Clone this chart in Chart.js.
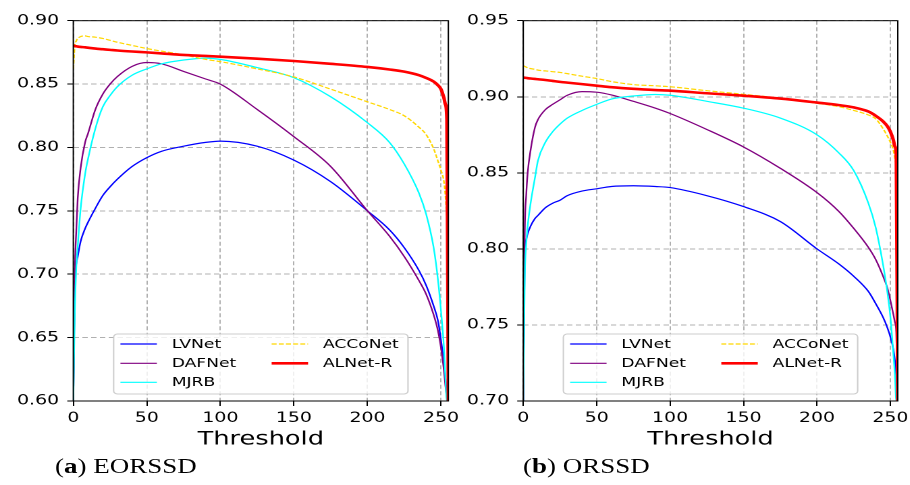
<!DOCTYPE html>
<html lang="en">
  <head>
    <meta charset="UTF-8" />
    <title>F-measure vs threshold</title>
    <script src="https://cdn.jsdelivr.net/npm/chart.js"></script>
    <style>
      body {
        margin: 0;
        background: #fff;
      }
      /* the source figure is stretched sideways, so the whole figure is too */
      #figure {
        position: relative;
        width: 674px;
        height: 485px;
        transform: scaleX(1.35);
        transform-origin: 0 0;
      }
      canvas {
        position: absolute;
        top: 0;
      }
      #chartA {
        left: 0;
      }
      #chartB {
        left: 337px;
      }
      .caption {
        position: absolute;
        top: 456px;
        font-family: "Liberation Serif", serif;
        font-size: 20px;
        line-height: 20px;
        color: #000;
        white-space: nowrap;
      }
    </style>
  </head>
  <body>
    <div id="figure">
      <canvas id="chartA" width="345" height="460"></canvas>
      <canvas id="chartB" width="337" height="460"></canvas>
      <div class="caption" style="left: 40.7px">(<b>a</b>) EORSSD</div>
      <div class="caption" style="left: 387.4px">(<b>b</b>) ORSSD</div>
    </div>

    <script>
      const names = ["LVNet", "DAFNet", "MJRB", "ACCoNet", "ALNet-R"];
      const colors = ["#0000ff", "#800080", "#00ffff", "#ffd700", "#ff0000"];
      const widths = [1.2, 1.2, 1.2, 1.2, 2.6];
      const dashes = [[], [], [], [3.7, 1.6], []];

      const xTicks = [0, 50, 100, 150, 200, 250];
      const yTicksA = [0.6, 0.65, 0.7, 0.75, 0.8, 0.85, 0.9];
      const yTicksB = [0.7, 0.75, 0.8, 0.85, 0.9, 0.95];

      const thresholds = [
        0, 1, 2, 3, 5, 8, 10, 15, 20, 25, 30, 40, 50, 60, 75, 90, 100, 125,
        150, 175, 200, 215, 225, 235, 240, 245, 248, 250, 252, 253, 254, 255,
      ];

      // (a) EORSSD
      const eorssdLVNet = [
        0.6, 0.69, 0.708, 0.714, 0.726, 0.736, 0.741, 0.752, 0.762, 0.769,
        0.775, 0.785, 0.792, 0.797, 0.801, 0.804, 0.805, 0.801, 0.79, 0.773,
        0.75, 0.735, 0.721, 0.703, 0.691, 0.675, 0.663, 0.648, 0.63, 0.618,
        0.605, 0.6,
      ];
      const eorssdDAFNet = [
        0.6, 0.7, 0.734, 0.76, 0.784, 0.804, 0.811, 0.83, 0.842, 0.85, 0.856,
        0.864, 0.867, 0.866, 0.86, 0.854, 0.85, 0.83, 0.8085, 0.785, 0.75,
        0.73, 0.714, 0.695, 0.684, 0.668, 0.655, 0.642, 0.624, 0.612, 0.603,
        0.6,
      ];
      const eorssdMJRB = [
        0.6, 0.67, 0.705, 0.722, 0.752, 0.779, 0.791, 0.815, 0.832, 0.841,
        0.848, 0.857, 0.862, 0.866, 0.869, 0.8705, 0.8695, 0.863, 0.855, 0.84,
        0.8195, 0.804, 0.787, 0.764, 0.747, 0.721, 0.695, 0.671, 0.642, 0.618,
        0.6, 0.6,
      ];
      const eorssdACCoNet = [
        0.862, 0.88, 0.884, 0.886, 0.8875, 0.888, 0.8875, 0.887, 0.886, 0.8845,
        0.883, 0.8805, 0.878, 0.876, 0.873, 0.8695, 0.8677, 0.862, 0.8556,
        0.846, 0.836, 0.83, 0.825, 0.816, 0.81, 0.799, 0.789, 0.782, 0.773,
        0.762, 0.745, 0.738,
      ];
      const eorssdALNetR = [
        0.8805, 0.88, 0.8798, 0.8796, 0.8793, 0.879, 0.8787, 0.878, 0.8775,
        0.877, 0.8765, 0.8757, 0.875, 0.8742, 0.873, 0.8722, 0.8716, 0.87,
        0.8682, 0.866, 0.8635, 0.8615, 0.8598, 0.857, 0.8548, 0.852, 0.849,
        0.846, 0.839, 0.834, 0.822, 0.6,
      ];

      // (b) ORSSD
      const orssdLVNet = [
        0.7, 0.795, 0.806, 0.81, 0.815, 0.82, 0.822, 0.827, 0.83, 0.832, 0.835,
        0.838, 0.8395, 0.841, 0.8415, 0.841, 0.8403, 0.835, 0.8278, 0.818,
        0.8, 0.79, 0.782, 0.772, 0.764, 0.755, 0.748, 0.742, 0.734, 0.727,
        0.715, 0.7,
      ];
      const orssdDAFNet = [
        0.7, 0.81, 0.835, 0.85, 0.865, 0.88, 0.885, 0.8915, 0.895, 0.898,
        0.901, 0.9034, 0.903, 0.9012, 0.897, 0.8925, 0.889, 0.8785, 0.867,
        0.853, 0.837, 0.8245, 0.8135, 0.801, 0.793, 0.782, 0.774, 0.766, 0.757,
        0.752, 0.745, 0.7,
      ];
      const orssdMJRB = [
        0.7, 0.78, 0.803, 0.815, 0.83, 0.847, 0.858, 0.87, 0.877, 0.882, 0.886,
        0.891, 0.895, 0.8985, 0.9005, 0.9015, 0.901, 0.897, 0.8925, 0.886,
        0.875, 0.863, 0.8515, 0.83, 0.814, 0.7895, 0.771, 0.755, 0.731, 0.718,
        0.7, 0.7,
      ];
      const orssdACCoNet = [
        0.9204, 0.92, 0.9195, 0.919, 0.9185, 0.918, 0.9175, 0.917, 0.9165,
        0.916, 0.9152, 0.9135, 0.912, 0.91, 0.908, 0.9072, 0.9066, 0.904,
        0.9016, 0.899, 0.8957, 0.8935, 0.891, 0.888, 0.8855, 0.879, 0.874,
        0.87, 0.865, 0.86, 0.855, 0.852,
      ];
      const orssdALNetR = [
        0.9126, 0.9125, 0.9124, 0.9122, 0.912, 0.9117, 0.9115, 0.911, 0.9104,
        0.9098, 0.9093, 0.9083, 0.9073, 0.9063, 0.9052, 0.9044, 0.904, 0.9023,
        0.9007, 0.8988, 0.8962, 0.8945, 0.893, 0.8903, 0.8875, 0.8838, 0.8805,
        0.877, 0.8715, 0.8675, 0.861, 0.7,
      ];

      const tickFont = { family: "DejaVu Sans", size: 14 };

      // box around the plot + matplotlib-like two column legend
      const frameAndLegend = {
        id: "frameAndLegend",
        afterDatasetsDraw(chart) {
          const { ctx, chartArea: a } = chart;
          ctx.save();
          ctx.strokeStyle = "#000";
          ctx.lineWidth = 1;
          ctx.strokeRect(a.left, a.top, a.right - a.left, a.bottom - a.top);

          const w = 218;
          const h = 60;
          const bx = (a.left + a.right) / 2 - w / 2;
          const by = a.bottom - 7 - h;
          ctx.beginPath();
          ctx.roundRect(bx, by, w, h, 3);
          ctx.fillStyle = "rgba(255,255,255,0.8)";
          ctx.fill();
          ctx.strokeStyle = "#cccccc";
          ctx.stroke();

          const slots = [
            [5, 10],
            [5, 29.3],
            [5, 48.3],
            [117, 10],
            [117, 29.3],
          ];
          ctx.font = "12.7px 'DejaVu Sans'";
          ctx.textBaseline = "middle";
          chart.data.datasets.forEach((ds, i) => {
            const x = bx + slots[i][0];
            const y = by + slots[i][1];
            ctx.beginPath();
            ctx.setLineDash(ds.borderDash);
            ctx.strokeStyle = ds.borderColor;
            ctx.lineWidth = ds.borderWidth;
            ctx.moveTo(x, y);
            ctx.lineTo(x + 27, y);
            ctx.stroke();
            ctx.setLineDash([]);
            ctx.fillStyle = "#000";
            ctx.fillText(ds.label, x + 38, y + 0.5);
          });
          ctx.restore();
        },
      };

      function makeChart(id, values, yMin, yMax, yTicks, axisWidth, padRight) {
        return new Chart(document.getElementById(id), {
          type: "line",
          data: {
            datasets: names.map((name, i) => ({
              label: name,
              data: thresholds.map((t, j) => ({ x: t, y: values[i][j] })),
              borderColor: colors[i],
              borderWidth: widths[i],
              borderDash: dashes[i],
              pointRadius: 0,
              fill: false,
              cubicInterpolationMode: "monotone",
              order: names.length - i,
            })),
          },
          options: {
            responsive: false,
            animation: false,
            devicePixelRatio: 2,
            layout: { padding: { top: 20.7, right: padRight, left: 0, bottom: 0 } },
            plugins: { legend: { display: false }, tooltip: { enabled: false } },
            scales: {
              x: {
                type: "linear",
                min: 0,
                max: 255,
                afterBuildTicks: (s) => {
                  s.ticks = xTicks.map((v) => ({ value: v }));
                },
                afterFit: (s) => {
                  s.height = 59;
                  s.paddingLeft = 0;
                  s.paddingRight = 0;
                },
                ticks: {
                  font: tickFont,
                  color: "#000",
                  padding: 4,
                  maxRotation: 0,
                  autoSkip: false,
                },
                grid: {
                  color: "#b0b0b0",
                  lineWidth: 1,
                  tickLength: 5,
                  tickColor: "#000",
                  tickBorderDash: [],
                },
                border: { display: false, dash: [4, 2.5] },
                title: {
                  display: true,
                  text: "Threshold",
                  font: { family: "DejaVu Sans", size: 19 },
                  color: "#000",
                  padding: { top: 0, bottom: 9 },
                },
              },
              y: {
                min: yMin,
                max: yMax,
                afterBuildTicks: (s) => {
                  s.ticks = yTicks.map((v) => ({ value: v }));
                },
                afterFit: (s) => {
                  s.width = axisWidth;
                },
                ticks: {
                  font: tickFont,
                  color: "#000",
                  padding: 6,
                  callback: (v) => v.toFixed(2),
                },
                grid: {
                  color: "#b0b0b0",
                  lineWidth: 1,
                  tickLength: 4.5,
                  tickColor: "#000",
                  tickBorderDash: [],
                },
                border: { display: false, dash: [4, 2.5] },
              },
            },
          },
          plugins: [frameAndLegend],
        });
      }

      makeChart(
        "chartA",
        [eorssdLVNet, eorssdDAFNet, eorssdMJRB, eorssdACCoNet, eorssdALNetR],
        0.6,
        0.9,
        yTicksA,
        54.3,
        12.9
      );
      makeChart(
        "chartB",
        [orssdLVNet, orssdDAFNet, orssdMJRB, orssdACCoNet, orssdALNetR],
        0.7,
        0.95,
        yTicksB,
        50.6,
        9
      );
    </script>
  </body>
</html>
